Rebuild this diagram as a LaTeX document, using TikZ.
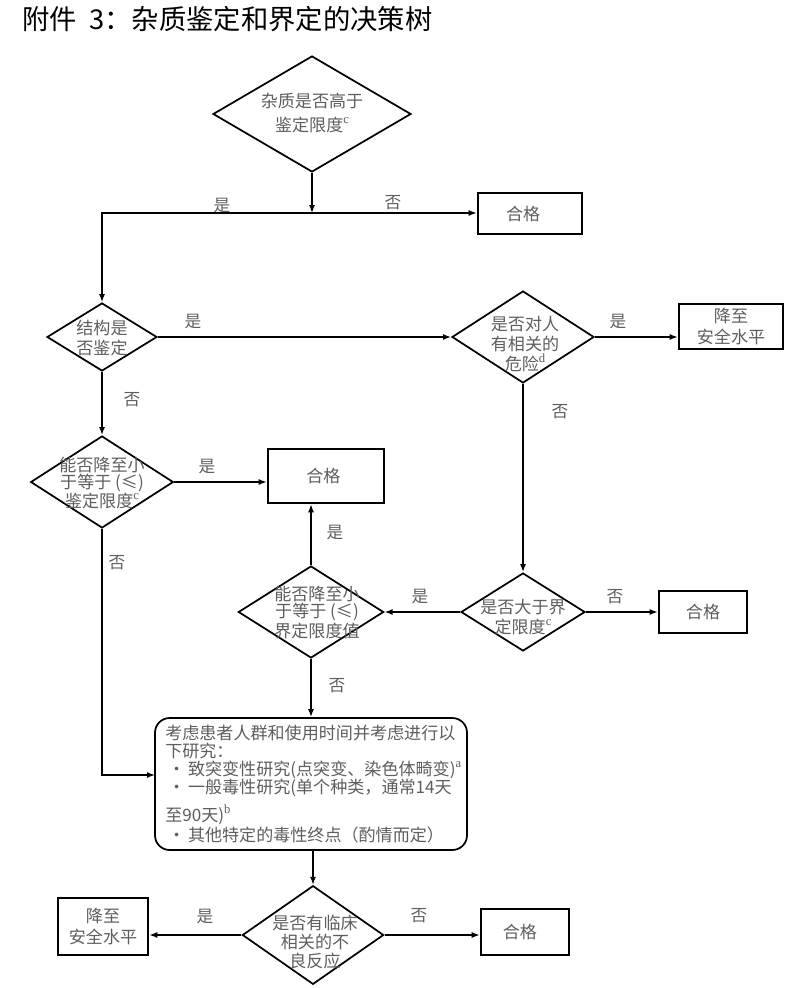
\documentclass[tikz,border=0pt]{standalone}
\usepackage{fontspec}
\setmainfont{Noto Sans CJK SC}
\newfontfamily\latinserif{Liberation Serif}
\usetikzlibrary{shapes.geometric,arrows.meta}
\definecolor{txt}{HTML}{5E5E5E}
\newcommand{\sups}[1]{\raisebox{0.45em}{\latinserif\fontsize{9.5}{9.5}\selectfont #1}}
\begin{document}
\begin{tikzpicture}[x=0.75pt,y=-0.75pt,
  dia/.style={draw, diamond, line width=1.3pt, inner sep=0pt},
  dtxt/.style={text=txt, align=center, inner sep=0pt, font=\fontsize{12.8}{#1}\selectfont},
  dtxt/.default=15,
  okbox/.style={draw, line width=1.9pt, inner sep=0pt, text=txt, align=center, font=\fontsize{12.8}{15.8}\selectfont},
  bigbox/.style={draw, line width=1.3pt, rounded corners=11pt, inner sep=0pt},
  ltxt/.style={anchor=west, text=txt, inner sep=0pt, font=\fontsize{12.8}{15}\selectfont},
  lbl/.style={text=txt, inner sep=0pt, font=\fontsize{12.5}{15}\selectfont},
  arr/.style={line width=1.1pt, -{Latex[length=6pt,width=4.5pt]}}
]
\useasboundingbox (0,0) rectangle (796,988);
\fill[white] (0,0) rectangle (796,988);

% title
\node[anchor=west, inner sep=0pt, font=\fontsize{20.5}{23}\selectfont] (title) at (22,19) {附件\hspace{0.45em}3：杂质鉴定和界定的决策树};

% diamonds
\node[dia, minimum width=148.5pt, minimum height=87pt] (D1) at (312,114) {};
\node[dtxt=18] (D1t) at (312,113) {杂质是否高于\\鉴定限度\sups{c}};

\node[dia, minimum width=82.5pt, minimum height=51pt] (D2) at (102,337) {};
\node[dtxt=15] (D2t) at (102,338) {结构是\\否鉴定};

\node[dia, minimum width=106.5pt, minimum height=69pt] (D3) at (523,337) {};
\node[dtxt=15] (D3t) at (525,344) {是否对人\\有相关的\\危险\sups{d}};

\node[dia, minimum width=107pt, minimum height=69pt] (D4) at (102,482) {};
\node[dtxt=11.3] (D4t) at (102,483) {能否降至小\\于等于 (≤)\\鉴定限度\sups{c}};

\node[dia, minimum width=93pt, minimum height=58.5pt] (D5) at (523,612) {};
\node[dtxt=15] (D5t) at (523,617) {是否大于界\\定限度\sups{c}};

\node[dia, minimum width=109pt, minimum height=69pt] (D6) at (311,612) {};
\node[dtxt=11.6] (D6t) at (317,612.5) {能否降至小\\于等于 (≤)\\界定限度值};

\node[dia, minimum width=106pt, minimum height=74pt] (D7) at (313,935) {};
\node[dtxt=14.6] (D7t) at (315,942) {是否有临床\\相关的不\\良反应};

% boxes
\node[okbox, minimum width=78pt, minimum height=30.75pt] (ok1) at (530,213.5) {合格\hspace{0.8em}};
\node[okbox, minimum width=78pt, minimum height=33.75pt] (safe1) at (731,326.5) {降至\\安全水平};
\node[okbox, minimum width=87pt, minimum height=40.5pt] (ok2) at (326,476) {合格\hspace{0.3em}};
\node[okbox, minimum width=66pt, minimum height=31.5pt] (ok3) at (703,612) {合格};
\node[okbox, minimum width=67.5pt, minimum height=42.75pt] (safe2) at (103,926.5) {降至\\安全水平};
\node[okbox, minimum width=66pt, minimum height=34.5pt] (ok4) at (525,932) {合格\hspace{0.6em}};

% big rounded box
\node[bigbox, minimum width=234pt, minimum height=99pt] (big) at (311,784) {};
\node[ltxt] (b1) at (165,733) {考虑患者人群和使用时间并考虑进行以};
\node[ltxt] (b2) at (165,751) {下研究：};
\node[ltxt] (b3) at (165,770) {\,·\,致突变性研究(点突变、染色体畸变)\sups{a}};
\node[ltxt] (b4) at (165,788) {\,·\,一般毒性研究(单个种类，通常14天};
\node[ltxt] (b5) at (165,815) {至90天)\sups{b}};
\node[ltxt] (b6) at (165,835) {\,·\,其他特定的毒性终点（酌情而定）};

% labels
\node[lbl] (l1) at (222,206) {是};
\node[lbl] (l2) at (393,203) {否};
\node[lbl] (l3) at (193,322) {是};
\node[lbl] (l4) at (618,322) {是};
\node[lbl] (l5) at (132,400) {否};
\node[lbl] (l6) at (560,412) {否};
\node[lbl] (l7) at (207,467) {是};
\node[lbl] (l8) at (117,563) {否};
\node[lbl] (l9) at (335,533) {是};
\node[lbl] (l10) at (420,597) {是};
\node[lbl] (l11) at (615,597) {否};
\node[lbl] (l12) at (337,686) {否};
\node[lbl] (l13) at (205,917) {是};
\node[lbl] (l14) at (419,916) {否};

% connectors
\coordinate (J1) at (312,213);
\coordinate (bigin) at (155,775);
\draw[arr] (D1.south) -- (J1);
\draw[arr] (J1) -- (J1 -| ok1.west);
\draw[arr] (J1) -| (D2.north);
\draw[arr] (D2.east) -- (D3.west);
\draw[arr] (D3.east) -- (D3.east -| safe1.west);
\draw[arr] (D3.south) -- (D5.north);
\draw[arr] (D2.south) -- (D4.north);
\draw[arr] (D4.east) -- (D4.east -| ok2.west);
\draw[arr] (D5.west) -- (D6.east);
\draw[arr] (D5.east) -- (D5.east -| ok3.west);
\draw[arr] (D6.north) -- (D6.north |- ok2.south);
\draw[arr] (D6.south) -- (D6.south |- big.north);
\draw[arr] (D4.south) |- (bigin);
\draw[arr] (D7.north |- big.south) -- (D7.north);
\draw[arr] (D7.west) -- (D7.west -| safe2.east);
\draw[arr] (D7.east) -- (D7.east -| ok4.west);
\end{tikzpicture}
\end{document}
